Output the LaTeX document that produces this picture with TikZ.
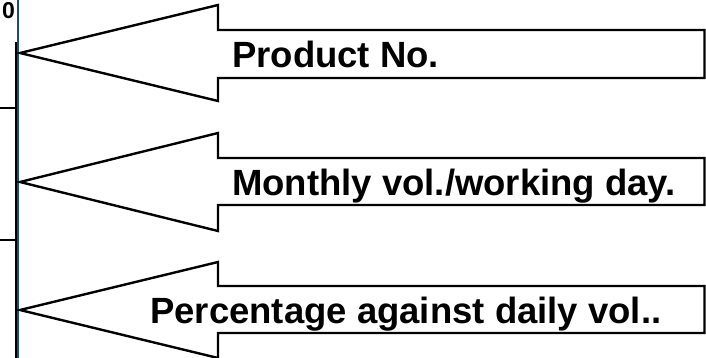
\documentclass[tikz,border=0pt]{standalone}
\usepackage{fontspec}
\setmainfont{Liberation Sans}
\usetikzlibrary{positioning}
\definecolor{axisblue}{RGB}{31,73,125}

\begin{document}
\begin{tikzpicture}[x=1pt,y=-1pt,
        bigarrow/.style={draw=black,line width=2.4pt,fill=white},
        arrowtext/.style={font=\fontsize{36.5}{40}\selectfont\bfseries,inner sep=0pt,anchor=base west}]
        \useasboundingbox (0,0) rectangle (706,358);
        %\draw (0,0) rectangle (706,358);
        \draw[line width=2pt] (15.5,42) -- (15.5,358);
        \draw[line width=2.4pt] (0,108) -- (15.5,108);
        \draw[line width=2.4pt] (0,240) -- (15.5,240);
        \draw[line width=2pt,color=axisblue] (17.5,0) -- (17.5,358);
        \node[font=\fontsize{23}{26}\selectfont\bfseries,inner sep=0pt] (zero) at (8.5,10.5) {0};

        \draw[bigarrow] (20,53) -- (218,5) -- (218,30) -- (704.5,30) -- (704.5,78) -- (218,78) -- (218,101) -- cycle;
        \draw[bigarrow] (20,182) -- (218,133) -- (218,158) -- (704.5,158) -- (704.5,205) -- (218,205) -- (218,231) -- cycle;
        \draw[bigarrow] (20,310) -- (218,262) -- (218,286) -- (704.5,286) -- (704.5,333) -- (218,333) -- (218,358) -- cycle;

        \node[arrowtext] (prodno) at (232,68) {Product No.};
        \node[arrowtext] (dailyvol) at (232,195) {Monthly vol./working day.};
        \node[arrowtext] (percent) at (150,323) {Percentage against daily vol..};
        \end{tikzpicture}
\end{document}
